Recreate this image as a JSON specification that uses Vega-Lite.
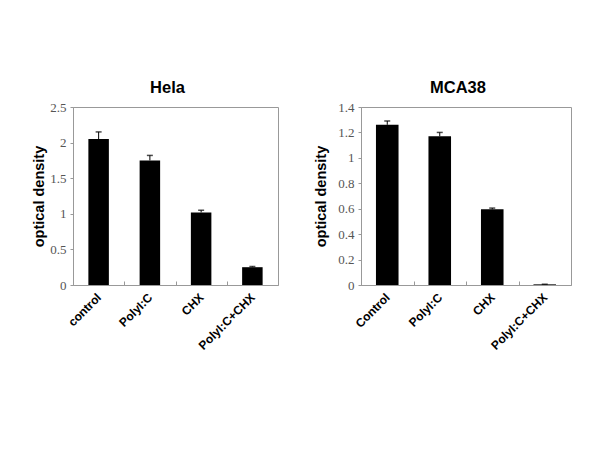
{
  "$schema": "https://vega.github.io/schema/vega-lite/v6.json",
  "background": "white",
  "padding": {"left": 31, "top": 79, "right": 5, "bottom": 5},
  "spacing": 34,
  "datasets": {
    "hela": [
      {"cond": "control", "value": 2.05, "upper": 2.15},
      {"cond": "PolyI:C", "value": 1.75, "upper": 1.82},
      {"cond": "CHX", "value": 1.02, "upper": 1.05},
      {"cond": "PolyI:C+CHX", "value": 0.25, "upper": 0.26}
    ],
    "mca38": [
      {"cond": "Control", "value": 1.26, "upper": 1.29},
      {"cond": "PolyI:C", "value": 1.17, "upper": 1.2},
      {"cond": "CHX", "value": 0.595, "upper": 0.605},
      {"cond": "PolyI:C+CHX", "value": 0.005, "upper": 0.006}
    ]
  },
  "config": {
    "view": {"stroke": "#999999", "strokeWidth": 1},
    "axis": {
      "grid": false,
      "domainColor": "#999999",
      "tickColor": "#999999",
      "tickSize": 3
    },
    "axisY": {
      "title": "optical density", "titleFont": "Liberation Sans", "titleFontSize": 14.5, "titleFontWeight": "bold", "titleColor": "black",
      "format": "~g", "labelOverlap": false,
      "labelFont": "Liberation Serif", "labelFontSize": 13, "labelColor": "#555555", "labelPadding": 4
    },
    "title": {"font": "Liberation Sans", "fontSize": 16.5, "fontWeight": "bold", "color": "black"}
  },
  "hconcat": [
    {
      "title": {"text": "Hela", "dx": -8, "offset": 5},
      "width": 205,
      "height": 178,
      "data": {"name": "hela"},
      "encoding": {
        "x": {
          "field": "cond", "type": "nominal", "sort": null,
          "scale": {"paddingInner": 0, "paddingOuter": 0},
          "axis": {
            "title": null, "labelAngle": -45, "labelAlign": "right", "labelBaseline": "middle",
            "labelFont": "Liberation Sans", "labelFontWeight": "bold", "labelFontSize": 12, "labelColor": "black",
            "tickBand": "extent", "tickSize": -4, "labelPadding": 14, "domain": false
          }
        }
      },
      "layer": [
        {
          "mark": {"type": "bar", "color": "black", "width": {"band": 0.4}},
          "encoding": {
            "y": {
              "field": "value", "type": "quantitative",
              "scale": {"domain": [0, 2.5], "nice": false},
              "axis": {"title": "optical density", "titlePadding": 3, "values": [0, 0.5, 1, 1.5, 2, 2.5], "format": "~g"}
            }
          }
        },
        {
          "mark": {"type": "rule", "color": "black", "strokeWidth": 1},
          "encoding": {
            "y": {"field": "value", "type": "quantitative", "axis": {"title": "optical density", "titlePadding": 3, "values": [0, 0.5, 1, 1.5, 2, 2.5], "format": "~g"}},
            "y2": {"field": "upper"}
          }
        },
        {
          "mark": {"type": "tick", "color": "black", "size": 6, "thickness": 1.5, "orient": "horizontal"},
          "encoding": {
            "y": {"field": "upper", "type": "quantitative", "axis": {"title": "optical density", "titlePadding": 3, "values": [0, 0.5, 1, 1.5, 2, 2.5], "format": "~g"}}
          }
        }
      ]
    },
    {
      "title": {"text": "MCA38", "dx": -8, "offset": 5},
      "width": 210,
      "height": 178,
      "data": {"name": "mca38"},
      "encoding": {
        "x": {
          "field": "cond", "type": "nominal", "sort": null,
          "scale": {"paddingInner": 0, "paddingOuter": 0},
          "axis": {
            "title": null, "labelAngle": -45, "labelAlign": "right", "labelBaseline": "middle",
            "labelFont": "Liberation Sans", "labelFontWeight": "bold", "labelFontSize": 12, "labelColor": "black",
            "tickBand": "extent", "tickSize": -4, "labelPadding": 14, "domain": false
          }
        }
      },
      "layer": [
        {
          "mark": {"type": "bar", "color": "black", "width": {"band": 0.43}},
          "encoding": {
            "y": {
              "field": "value", "type": "quantitative",
              "scale": {"domain": [0, 1.4], "nice": false},
              "axis": {"title": "optical density", "titlePadding": 9, "values": [0, 0.2, 0.4, 0.6, 0.8, 1, 1.2, 1.4], "format": "~g"}
            }
          }
        },
        {
          "mark": {"type": "rule", "color": "black", "strokeWidth": 1},
          "encoding": {
            "y": {"field": "value", "type": "quantitative", "axis": {"title": "optical density", "titlePadding": 9, "values": [0, 0.2, 0.4, 0.6, 0.8, 1, 1.2, 1.4], "format": "~g"}},
            "y2": {"field": "upper"}
          }
        },
        {
          "mark": {"type": "tick", "color": "black", "size": 6, "thickness": 1.5, "orient": "horizontal"},
          "encoding": {
            "y": {"field": "upper", "type": "quantitative", "axis": {"title": "optical density", "titlePadding": 9, "values": [0, 0.2, 0.4, 0.6, 0.8, 1, 1.2, 1.4], "format": "~g"}}
          }
        }
      ]
    }
  ],
  "resolve": {"scale": {"y": "independent", "x": "independent"}}
}
